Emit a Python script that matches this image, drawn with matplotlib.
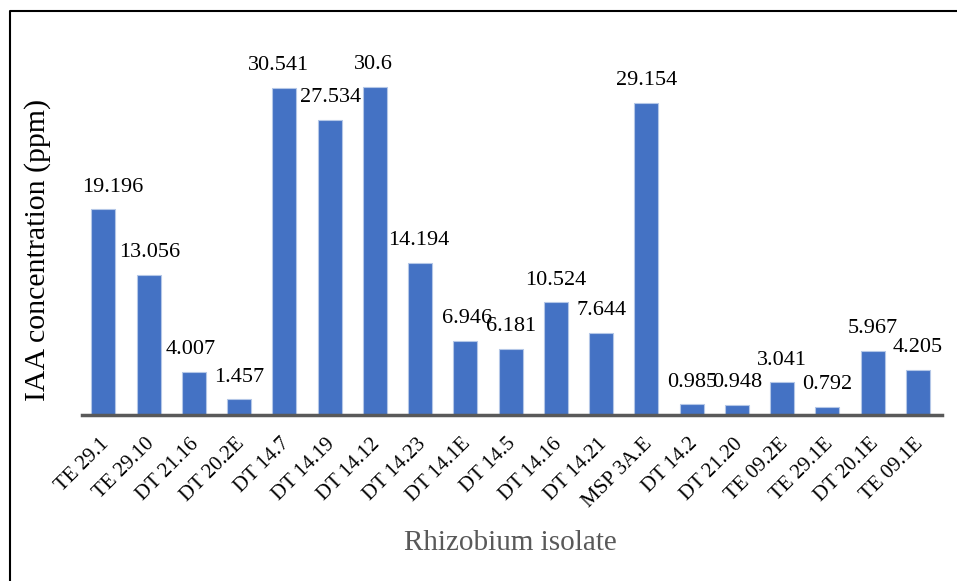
import numpy as np
import matplotlib
matplotlib.use('Agg')
import matplotlib.pyplot as plt
from matplotlib.lines import Line2D
from matplotlib.transforms import ScaledTranslation

isolates = ['TE 29.1', 'TE 29.10', 'DT 21.16', 'DT 20.2E', 'DT 14.7', 'DT 14.19',
            'DT 14.12', 'DT 14.23', 'DT 14.1E', 'DT 14.5', 'DT 14.16', 'DT 14.21',
            'MSP 3A.E', 'DT 14.2', 'DT 21.20', 'TE 09.2E', 'TE 29.1E', 'DT 20.1E',
            'TE 09.1E']
iaa = [19.196, 13.056, 4.007, 1.457, 30.541, 27.534, 30.6, 14.194, 6.946, 6.181,
       10.524, 7.644, 29.154, 0.985, 0.948, 3.041, 0.792, 5.967, 4.205]
labels = ['19.196', '13.056', '4.007', '1.457', '30.541', '27.534', '30.6', '14.194',
          '6.946', '6.181', '10.524', '7.644', '29.154', '0.985', '0.948', '3.041',
          '0.792', '5.967', '4.205']

plt.rcParams['font.family'] = ['Liberation Serif', 'DejaVu Serif']

W, H = 957, 581
fig = plt.figure(figsize=(W / 100, H / 100), dpi=100)
ax = fig.add_axes([82 / W, 1 - 415 / H, (942 - 82) / W, (415 - 40) / H])

x = np.arange(len(iaa))
ax.bar(x, iaa, width=0.53, color='#4472C4', edgecolor='#B4C7E7', linewidth=0.8, zorder=2)

# small horizontal nudges, like the hand-placed labels in the original
dx = [7, 1, -2, 0, -4, 1, -1, -1, 1, 0, 0, 0, 0, 0, 0, 0, 0, 0, 0]
for i in range(len(iaa)):
    ax.annotate(labels[i], (x[i], iaa[i]), xytext=(dx[i], 16),
                textcoords='offset points', ha='center', va='center',
                fontsize=16, color='black')

ax.set_xlim(-0.47, len(iaa) - 0.5 + 0.03)
ax.set_ylim(0, 35)
ax.set_yticks([])
ax.set_xticks(x)
ax.set_xticklabels(isolates, rotation=45, ha='right', rotation_mode='anchor',
                   fontsize=15)
ax.tick_params(axis='x', length=0, pad=14)
# shift tick labels a touch to the left
shift = ScaledTranslation(-4 / 100, 0, fig.dpi_scale_trans)
for lbl in ax.get_xticklabels():
    lbl.set_transform(lbl.get_transform() + shift)
for s in ['top', 'right', 'left']:
    ax.spines[s].set_visible(False)
ax.spines['bottom'].set_color('#595959')
ax.spines['bottom'].set_linewidth(2.5)

fig.text(38 / W, 1 - 250 / H, 'IAA concentration (ppm)', rotation=90,
         ha='center', va='center', fontsize=21.5, color='black')
fig.text(510 / W, 1 - 543 / H, 'Rhizobium isolate', ha='center', va='center',
         fontsize=21, color='#595959')

# outer frame (only top and left visible in the original crop)
fig.add_artist(Line2D([9.5 / W, 9.5 / W, 1.0], [0.0, 1 - 10.5 / H, 1 - 10.5 / H],
                      transform=fig.transFigure, color='black', linewidth=1.5))

fig.savefig('out.png', dpi=100)
